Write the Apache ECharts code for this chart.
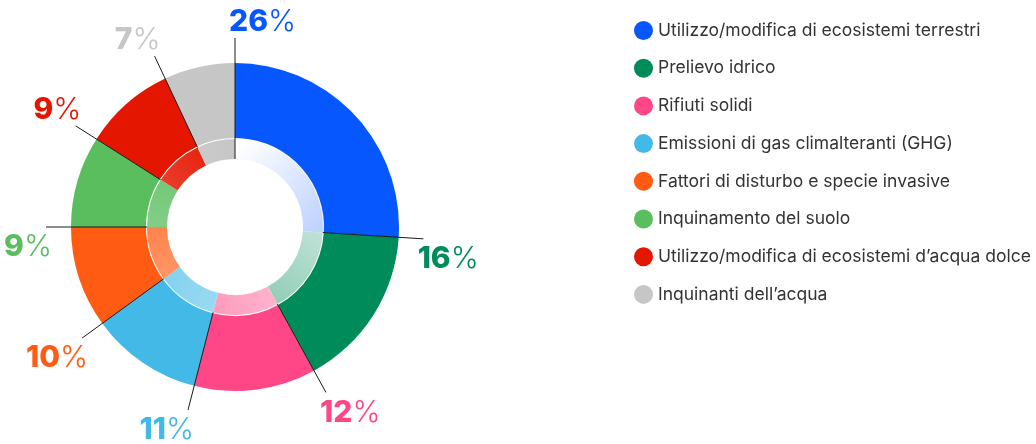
<!DOCTYPE html>
<html>
<head>
<meta charset="utf-8">
<script src="https://cdn.jsdelivr.net/npm/echarts@6/dist/echarts.min.js"></script>
<style>
  html, body { margin: 0; padding: 0; background: #ffffff; }
  #chart { width: 1036px; height: 444px; }
</style>
</head>
<body>
<div id="chart"></div>
<script>
// Pressure categories and their share of impacts (%)
const categories = [
  'Utilizzo/modifica di ecosistemi terrestri',
  'Prelievo idrico',
  'Rifiuti solidi',
  'Emissioni di gas climalteranti (GHG)',
  'Fattori di disturbo e specie invasive',
  'Inquinamento del suolo',
  'Utilizzo/modifica di ecosistemi d\u2019acqua dolce',
  'Inquinanti dell\u2019acqua'
];
const shares = [26, 16, 12, 11, 10, 9, 9, 7];
const colors = ['#0757FF', '#008C5A', '#FF4787', '#42B9E6', '#FF5B12', '#5ABE5F', '#E51600', '#C6C6C6'];

// Geometry of the donut (pixels)
const CX = 235, CY = 227;
const R_HOLE = 68, R_INNER = 88, R_OUTER = 164, R_LEAD = 189;
const FONT = 'Inter, "Noto Sans", sans-serif';

const total = shares.reduce((a, b) => a + b, 0);
const starts = [];
let acc = 0;
shares.forEach(v => { starts.push(acc); acc += v; });

// Blend a hex colour towards white by amount t (0..1)
function tint(hex, t) {
  const n = parseInt(hex.slice(1), 16);
  const r = (n >> 16) & 255, g = (n >> 8) & 255, b = n & 255;
  const f = c => Math.round(c + (255 - c) * t);
  return `rgb(${f(r)},${f(g)},${f(b)})`;
}
function pointAt(frac, r) {
  const a = frac * 2 * Math.PI;
  return [CX + r * Math.sin(a), CY - r * Math.cos(a)];
}

// Inner ring: each slice fades from white, the fade shrinking clockwise
const innerData = shares.map((v, i) => {
  const f0 = starts[i] / total, f1 = (starts[i] + v) / total;
  const p0 = pointAt(f0, (R_HOLE + R_INNER) / 2), p1 = pointAt(f1, (R_HOLE + R_INNER) / 2);
  return {
    value: v,
    name: categories[i],
    itemStyle: {
      color: {
        type: 'linear', global: true,
        x: p0[0], y: p0[1], x2: p1[0], y2: p1[1],
        colorStops: [
          { offset: 0, color: tint(colors[i], 1 - f0) },
          { offset: 1, color: tint(colors[i], 1 - f1) }
        ]
      }
    }
  };
});

const outerData = shares.map((v, i) => ({ value: v, name: categories[i], itemStyle: { color: colors[i] } }));

// Leader lines along the start edge of every slice
const leaderSeries = starts.map((s, i) => ({
  type: 'line',
  coordinateSystem: 'polar',
  symbol: 'none',
  silent: true,
  z: 5,
  lineStyle: { color: '#1a1a1a', width: 1 },
  data: [[i === 0 ? R_HOLE : R_INNER, s], [R_LEAD, s]]
}));

// Percentage labels at the outer end of the leader lines
const labelData = starts.map((s, i) => {
  const a = s / total * 2 * Math.PI;
  const right = Math.sin(a) > -1e-6 && s / total < 0.5;
  const upper = Math.cos(a) > 1e-6;
  return {
    value: [R_LEAD, s],
    label: {
      show: true,
      opacity: 1,
      position: [right ? -6 : 6, upper ? -1 : 5],
      align: right ? 'left' : 'right',
      verticalAlign: upper ? 'bottom' : 'top',
      formatter: `{n|${shares[i]}}{p|%}`,
      rich: {
        n: { fontFamily: FONT, fontWeight: 800, fontSize: 30, color: colors[i] },
        p: { fontFamily: FONT, fontWeight: 300, fontSize: 30, color: colors[i] }
      }
    }
  };
});

const chart = echarts.init(document.getElementById('chart'), null, { renderer: 'canvas' });
chart.setOption({
  animation: false,
  backgroundColor: '#ffffff',
  polar: { center: [CX, CY], radius: R_LEAD },
  angleAxis: { type: 'value', min: 0, max: total, startAngle: 90, clockwise: true, show: false },
  radiusAxis: { type: 'value', min: 0, max: R_LEAD, show: false },
  legend: {
    data: categories,
    orient: 'vertical',
    left: 629,
    top: 16,
    icon: 'circle',
    itemWidth: 19,
    itemHeight: 19,
    itemGap: 18.7,
    selectedMode: false,
    textStyle: { fontFamily: FONT, fontSize: 17.5, color: '#333333', padding: [0, 0, 0, 0] }
  },
  series: [
    {
      type: 'pie',
      name: 'outer',
      center: [CX, CY],
      radius: [R_INNER + 1, R_OUTER],
      startAngle: 90,
      clockwise: true,
      silent: true,
      label: { show: false },
      labelLine: { show: false },
      data: outerData
    },
    {
      type: 'pie',
      name: 'inner',
      center: [CX, CY],
      radius: [R_HOLE, R_INNER],
      startAngle: 90,
      clockwise: true,
      silent: true,
      label: { show: false },
      labelLine: { show: false },
      data: innerData
    },
    ...leaderSeries,
    {
      type: 'scatter',
      coordinateSystem: 'polar',
      symbolSize: 0,
      silent: true,
      z: 6,
      itemStyle: { opacity: 1 },
      data: labelData
    }
  ]
});
</script>
</body>
</html>
